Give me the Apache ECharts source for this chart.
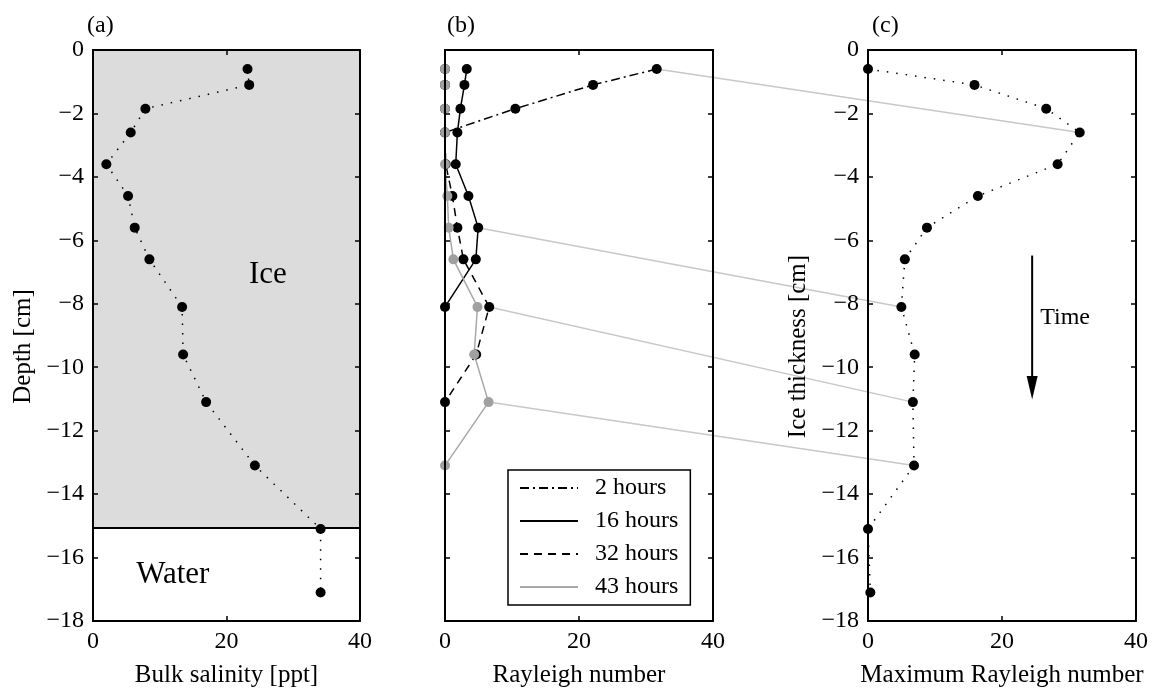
<!DOCTYPE html>
<html>
<head>
<meta charset="utf-8">
<script src="https://cdn.jsdelivr.net/npm/echarts@6/dist/echarts.min.js"></script>
<style>
  html, body { margin: 0; padding: 0; background: #fff; }
  #chart { width: 1152px; height: 693px; }
</style>
</head>
<body>
<div id="chart"></div>
<script>
// Sampling depths below the ice surface [cm]
const depths = [-0.6, -1.1, -1.85, -2.6, -3.6, -4.6, -5.6, -6.6, -8.1, -9.6, -11.1, -13.1, -15.1, -17.1];

// (a) bulk salinity profile [ppt]
const salinity = [23.15, 23.4, 7.85, 5.65, 2.0, 5.25, 6.25, 8.45, 13.35, 13.5, 16.95, 24.25, 34.1, 34.1];
const iceBottom = -15.05;

// (b) Rayleigh number profiles, one value per depth down to the ice base
const profileNames = ['2 hours', '16 hours', '32 hours', '43 hours'];
const ra2h  = [31.6, 22.1, 10.5, 0];
const ra16h = [3.25, 2.9, 2.3, 1.85, 1.6, 3.5, 4.95, 4.6, 0];
const ra32h = [0, 0, 0, 0, 0.1, 1.1, 1.85, 2.75, 6.6, 4.65, 0];
const ra43h = [0, 0, 0, 0, 0, 0.35, 0.55, 1.25, 4.85, 4.35, 6.5, 0];

// (c) maximum Rayleigh number against ice thickness
const maxRa = [0, 15.9, 26.6, 31.6, 28.3, 16.4, 8.8, 5.5, 4.98, 6.97, 6.7, 6.87, 0, 0.35];

// tick values
const xTicks = [0, 20, 40];
const yTicks = [0, -2, -4, -6, -8, -10, -12, -14, -16, -18];

const FONT = '"Liberation Serif", "Times New Roman", serif';
const pairs = (vals) => vals.map((v, i) => [v, depths[i]]);
const minus = (v) => (v < 0 ? '\u2212' + Math.abs(v) : String(v));

const grids = [
  { left: 93,  top: 50, width: 267, height: 574 },
  { left: 445, top: 50, width: 268, height: 574 },
  { left: 868, top: 50, width: 268, height: 574 }
];

const frameLine = { show: true, onZero: false, lineStyle: { color: '#000', width: 2 } };
const tick = { show: true, inside: true, length: 5, lineStyle: { color: '#000', width: 1.5 } };
const labelStyle = { color: '#000', fontFamily: FONT, fontSize: 24, margin: 9, formatter: minus };
const nameStyle = { color: '#000', fontFamily: FONT, fontSize: 25 };

const xAxis = [], yAxis = [];
const xNames = ['Bulk salinity [ppt]', 'Rayleigh number', 'Maximum Rayleigh number'];
const yNames = ['Depth [cm]', '', 'Ice thickness [cm]'];
for (let g = 0; g < 3; g++) {
  const xr = { min: xTicks[0], max: xTicks[xTicks.length - 1], interval: xTicks[1] - xTicks[0] };
  const yr = { min: yTicks[yTicks.length - 1], max: yTicks[0], interval: 2 };
  xAxis.push({
    type: 'value', gridIndex: g, position: 'bottom', ...xr, z: 5,
    name: xNames[g], nameLocation: 'middle', nameGap: 42, nameTextStyle: nameStyle,
    axisLine: frameLine, axisTick: tick, axisLabel: labelStyle, splitLine: { show: false }
  });
  xAxis.push({
    type: 'value', gridIndex: g, position: 'top', ...xr, z: 5,
    axisLine: frameLine, axisTick: tick, axisLabel: { show: false }, splitLine: { show: false }
  });
  yAxis.push({
    type: 'value', gridIndex: g, position: 'left', ...yr, z: 5,
    name: yNames[g], nameLocation: 'middle', nameGap: 57,
    nameTextStyle: { ...nameStyle, padding: [0, 22, 0, 0] },
    axisLine: frameLine, axisTick: tick,
    axisLabel: g === 1 ? { show: false } : labelStyle, splitLine: { show: false }
  });
  yAxis.push({
    type: 'value', gridIndex: g, position: 'right', ...yr, z: 5,
    axisLine: frameLine, axisTick: tick, axisLabel: { show: false }, splitLine: { show: false }
  });
}

const dot = (color) => ({ symbol: 'circle', symbolSize: 10, itemStyle: { color: color, opacity: 1 } });

const profiles = [ra2h, ra16h, ra32h, ra43h];
const profileStyles = [
  { color: '#000', type: [9, 4, 2, 4] },
  { color: '#000', type: 'solid' },
  { color: '#000', type: [8, 6] },
  { color: '#a8a8a8', type: 'solid' }
];
const profileDot = ['#000', '#000', '#000', '#a0a0a0'];

const series = [
  {
    type: 'line', xAxisIndex: 0, yAxisIndex: 0, data: pairs(salinity),
    ...dot('#000'), lineStyle: { color: '#000', width: 1.5, type: [1.5, 8] },
    animation: false, silent: true,
    markArea: {
      silent: true,
      itemStyle: { color: '#dcdcdc', opacity: 1 },
      data: [[{ yAxis: 0 }, { yAxis: iceBottom }]]
    },
    markLine: {
      silent: true, symbol: ['none', 'none'], label: { show: false },
      lineStyle: { color: '#000', width: 2, type: 'solid' },
      data: [{ yAxis: iceBottom }]
    }
  }
];
profiles.forEach((p, i) => {
  series.push({
    type: 'line', name: profileNames[i], xAxisIndex: 2, yAxisIndex: 2, data: pairs(p),
    ...dot(profileDot[i]),
    lineStyle: { color: profileStyles[i].color, width: 1.5, type: profileStyles[i].type },
    animation: false, silent: true
  });
});
series.push({
  type: 'line', xAxisIndex: 4, yAxisIndex: 4, data: pairs(maxRa),
  ...dot('#000'), lineStyle: { color: '#000', width: 1.5, type: [1.5, 8] },
  animation: false, silent: true
});

const chart = echarts.init(document.getElementById('chart'));
chart.setOption({
  backgroundColor: '#fff',
  animation: false,
  grid: grids,
  xAxis: xAxis,
  yAxis: yAxis,
  legend: {
    orient: 'vertical', left: 508, top: 470,
    data: profileNames,
    itemWidth: 58, itemHeight: 14, itemGap: 9,
    padding: [6, 12, 6, 11],
    borderColor: '#000', borderWidth: 1.5, borderRadius: 0,
    backgroundColor: '#fff',
    itemStyle: { opacity: 0 },
    textStyle: { color: '#000', fontFamily: FONT, fontSize: 24, lineHeight: 23, padding: [0, 0, 0, 12] },
    selectedMode: false
  },
  series: series
});

// annotations placed through the axes' own scales
const px = (seriesIndex, x, y) => chart.convertToPixel({ seriesIndex: seriesIndex }, [x, y]);
const graphics = [];

// connectors: maximum of each profile in (b) to its point in (c)
profiles.forEach((p, i) => {
  let k = 0;
  p.forEach((v, j) => { if (v > p[k]) k = j; });
  const a = px(1 + i, p[k], depths[k]);
  const last = p.length - 1;
  const b = px(5, maxRa[last], depths[last]);
  graphics.push({
    type: 'line', z: 1, silent: true,
    shape: { x1: a[0], y1: a[1], x2: b[0], y2: b[1] },
    style: { stroke: '#c8c8c8', lineWidth: 1.5 }
  });
});

// region labels in (a)
const ice = px(0, 26.2, -7.1);
const water = px(0, 11.95, -16.55);
graphics.push({ type: 'text', z: 10, silent: true, style: { text: 'Ice', x: ice[0], y: ice[1], fontFamily: FONT, fontSize: 31, fill: '#000', align: 'center', verticalAlign: 'middle' } });
graphics.push({ type: 'text', z: 10, silent: true, style: { text: 'Water', x: water[0], y: water[1], fontFamily: FONT, fontSize: 31, fill: '#000', align: 'center', verticalAlign: 'middle' } });

// time arrow in (c)
const aTop = px(5, 24.5, -6.48);
const aBase = px(5, 24.5, -10.28);
const aTip = px(5, 24.5, -11.02);
graphics.push({ type: 'line', z: 10, silent: true, shape: { x1: aTop[0], y1: aTop[1], x2: aBase[0], y2: aBase[1] + 2 }, style: { stroke: '#000', lineWidth: 2 } });
graphics.push({ type: 'polygon', z: 10, silent: true, shape: { points: [[aBase[0] - 5.5, aBase[1]], [aBase[0] + 5.5, aBase[1]], [aTip[0], aTip[1]]] }, style: { fill: '#000' } });
const timePos = px(5, 25.7, -8.45);
graphics.push({ type: 'text', z: 10, silent: true, style: { text: 'Time', x: timePos[0], y: timePos[1], fontFamily: FONT, fontSize: 24, fill: '#000', align: 'left', verticalAlign: 'middle' } });

// panel letters
[['(a)', 87], ['(b)', 447], ['(c)', 872]].forEach(([t, x]) => {
  graphics.push({ type: 'text', z: 10, silent: true, style: { text: t, x: x, y: 26, fontFamily: FONT, fontSize: 24, fill: '#000', align: 'left', verticalAlign: 'middle' } });
});

chart.setOption({ graphic: graphics });
</script>
</body>
</html>
